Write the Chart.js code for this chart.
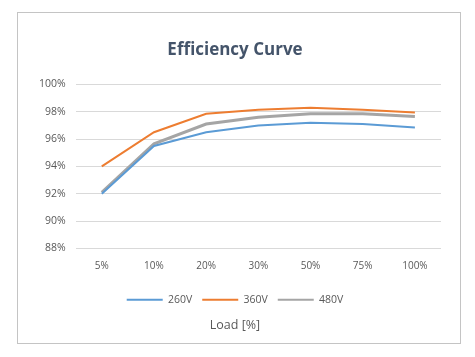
<!DOCTYPE html>
<html>
<head>
<meta charset="utf-8">
<script src="https://cdn.jsdelivr.net/npm/chart.js@4/dist/chart.umd.min.js"></script>
<style>
  html, body { margin: 0; padding: 0; background: #ffffff; }
  body { width: 475px; height: 357px; position: relative; overflow: hidden; }
  #box { position: absolute; left: 17px; top: 12px; width: 442px; height: 330px; border: 1px solid #c4c4c4; background: #fff; }
  #box canvas { display: block; }
</style>
</head>
<body>
<div id="box"><canvas id="c" width="442" height="330"></canvas></div>
<script>
const categories = ['5%', '10%', '20%', '30%', '50%', '75%', '100%'];
const seriesNames = ['260V', '360V', '480V'];
const v260 = [92.0, 95.5, 96.5, 97.0, 97.2, 97.1, 96.85];
const v360 = [94.0, 96.5, 97.85, 98.15, 98.3, 98.15, 97.95];
const v480 = [92.1, 95.65, 97.1, 97.6, 97.85, 97.85, 97.65];
const yTicks = [88, 90, 92, 94, 96, 98, 100];

const colors = ['#5b9bd5', '#ed7d31', '#a5a5a5'];
const widths = [2, 2, 3];
const font = "'Open Sans', 'Noto Sans', sans-serif";

new Chart(document.getElementById('c'), {
  type: 'line',
  data: {
    labels: categories,
    datasets: [v260, v360, v480].map((d, i) => ({
      label: seriesNames[i],
      data: d,
      borderColor: colors[i],
      backgroundColor: colors[i],
      borderWidth: widths[i],
      pointRadius: 0,
      tension: 0,
      fill: false
    }))
  },
  options: {
    responsive: false,
    animation: false,
    layout: { padding: { left: 11, right: 19, top: 14, bottom: 7 } },
    plugins: {
      title: {
        display: true,
        text: 'Efficiency Curve',
        color: '#44546a',
        font: { family: font, size: 17, weight: 'bold' },
        padding: { top: 13, bottom: 24 }
      },
      subtitle: {
        display: true,
        position: 'bottom',
        text: 'Load [%]',
        color: '#595959',
        font: { family: font, size: 12.5 },
        padding: { top: 3, bottom: 3 }
      },
      legend: {
        position: 'bottom',
        labels: {
          color: '#595959',
          font: { family: font, size: 10.5 },
          boxWidth: 36,
          boxHeight: 2,
          padding: 10,
          generateLabels: (chart) => chart.data.datasets.map((ds, i) => ({
            text: ds.label,
            fillStyle: ds.borderColor,
            strokeStyle: ds.borderColor,
            lineWidth: 0,
            fontColor: '#595959',
            datasetIndex: i,
            hidden: false
          }))
        }
      },
      tooltip: { enabled: false }
    },
    scales: {
      x: {
        offset: true,
        grid: { display: false, drawTicks: false },
        border: { display: false },
        ticks: { color: '#595959', font: { family: font, size: 10 }, padding: 12 }
      },
      y: {
        min: 88,
        max: 100,
        afterBuildTicks: (axis) => { axis.ticks = yTicks.map(v => ({ value: v })); },
        grid: { color: '#d9d9d9', lineWidth: 1, drawTicks: false },
        border: { display: false },
        ticks: {
          color: '#595959',
          font: { family: font, size: 10.5 },
          padding: 10,
          callback: (v) => v + '%'
        }
      }
    }
  }
});
</script>
</body>
</html>
